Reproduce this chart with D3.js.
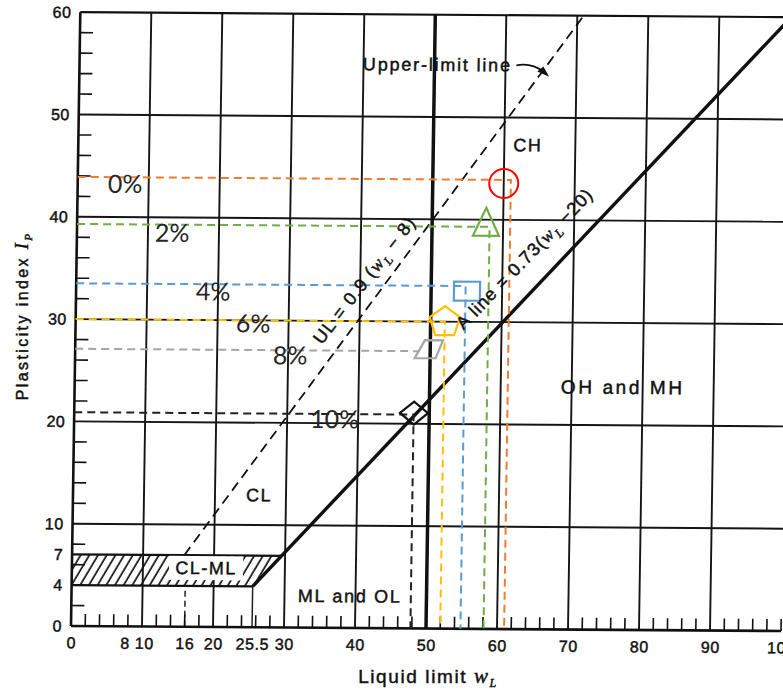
<!DOCTYPE html>
<html>
<head>
<meta charset="utf-8">
<script src="https://cdn.jsdelivr.net/npm/d3@7/dist/d3.min.js"></script>
<style>
  html, body { margin: 0; padding: 0; background: #fff; }
  svg { display: block; }
  .lbl { font-family: "Liberation Sans", Arial, sans-serif; fill: #111; stroke: #111; stroke-width: 0.45; paint-order: stroke; }
  .pct { font-family: Lato, "Open Sans", sans-serif; fill: #262626; }
</style>
</head>
<body>
<script>
// ---------------- data ----------------
const xTickValues = [0, 8, 10, 16, 20, 25.5, 30, 40, 50, 60, 70, 80, 90, 100];
const yTickValues = [0, 4, 7, 10, 20, 30, 40, 50, 60];
const gridX = [10, 20, 30, 40, 60, 70, 80, 90];
const gridY = [10, 20, 30, 40, 50];
const bLineWL = 50;

// A-line and upper-limit line [wL, Ip]
const aLinePts = [[25.5, 4], [100, 59.9]];
const ulLinePts = [[15.8, 7], [70.9, 60]];
// CL-ML band
const clmlBand = [[0, 4], [25.5, 4], [29.5, 7], [0, 7]];

// mixture series
const mixLabels = ["0%", "2%", "4%", "6%", "8%", "10%"];
const markerWL = [60.0, 57.6, 55.05, 52.0, 49.8, 47.85];
const markerIP = [43.55, 39.7, 33.0, 30.1, 27.3, 21.05];
const guideWL = [61.0, 58.1, 54.85, 52.0, null, 47.8];
const guideIP = [43.9, 39.3, 33.5, 30.0, 27.1, 20.9];
const labelWL = [6.7, 13.4, 19.3, 25.0, 30.3, 36.7];
const labelIP = [43.35, 38.6, 32.9, 29.8, 26.7, 20.5];

// ---------------- styles ----------------
const guideColors = ["#ed7d31", "#70ad47", "#5b9bd5", "#ffc000", "#a5a5a5", "#222222"];
const markerColors = ["#ff0000", "#70ad47", "#5b9bd5", "#ffc000", "#a5a5a5", "#111111"];
const markerShapes = ["circle", "triangle", "square", "pentagon", "parallelogram", "diamond"];

const W = 783, H = 690;
const svg = d3.select("body").append("svg").attr("width", W).attr("height", H);
svg.append("rect").attr("width", W).attr("height", H).attr("fill", "#fff");

const x = d3.scaleLinear().domain([0, 100]).range([0, 710]);
const y = d3.scaleLinear().domain([0, 60]).range([0, -613.8]);

// slight skew to mimic the scanned sheet
const g = svg.append("g").attr("transform", "matrix(1,0.00704,-0.01515,1,71,626)");

const defs = svg.append("defs");
const pat = defs.append("pattern").attr("id", "hatch").attr("patternUnits", "userSpaceOnUse")
  .attr("width", 7.5).attr("height", 8).attr("patternTransform", "rotate(30)");
pat.append("line").attr("x1", 2).attr("y1", 0).attr("x2", 2).attr("y2", 8)
  .attr("stroke", "#111").attr("stroke-width", 1.7);

// hatch band
const line = d3.line().x(d => x(d[0])).y(d => y(d[1]));
g.append("path").attr("d", line(clmlBand) + "Z").attr("fill", "url(#hatch)").attr("stroke", "none");
g.append("line").attr("x1", x(0)).attr("x2", x(29.5)).attr("y1", y(7)).attr("y2", y(7))
  .attr("stroke", "#111").attr("stroke-width", 2.2);
g.append("line").attr("x1", x(0)).attr("x2", x(25.5)).attr("y1", y(4)).attr("y2", y(4))
  .attr("stroke", "#111").attr("stroke-width", 2.2);
// small verticals below band
g.append("line").attr("x1", x(16)).attr("x2", x(16)).attr("y1", y(0)).attr("y2", y(4))
  .attr("stroke", "#222").attr("stroke-width", 1.5).attr("stroke-dasharray", "6,4");
g.append("line").attr("x1", x(25.5)).attr("x2", x(25.5)).attr("y1", y(0)).attr("y2", y(4))
  .attr("stroke", "#222").attr("stroke-width", 1.5);

// grid
g.selectAll("line.gx").data(gridX).join("line").attr("class", "gx")
  .attr("x1", d => x(d)).attr("x2", d => x(d)).attr("y1", y(0)).attr("y2", y(60))
  .attr("stroke", "#151515").attr("stroke-width", 1.9);
g.selectAll("line.gy").data(gridY).join("line").attr("class", "gy")
  .attr("x1", x(0)).attr("x2", x(100.6)).attr("y1", d => y(d)).attr("y2", d => y(d))
  .attr("stroke", "#151515").attr("stroke-width", 1.9);
// frame
g.append("line").attr("x1", x(0)).attr("x2", x(100.6)).attr("y1", y(60)).attr("y2", y(60))
  .attr("stroke", "#111").attr("stroke-width", 2.2);
g.append("line").attr("x1", x(0)).attr("x2", x(0)).attr("y1", y(0)).attr("y2", y(60))
  .attr("stroke", "#111").attr("stroke-width", 2.6);
g.append("line").attr("x1", x(0)).attr("x2", x(100)).attr("y1", y(0)).attr("y2", y(0))
  .attr("stroke", "#111").attr("stroke-width", 2.6);
// B-line
g.append("line").attr("x1", x(bLineWL)).attr("x2", x(bLineWL)).attr("y1", y(0)).attr("y2", y(60))
  .attr("stroke", "#111").attr("stroke-width", 3.5);

// minor ticks
const minorX = d3.range(2, 100.1, 2).filter(v => v % 10 !== 0);
const minorY = d3.range(2, 60, 2).filter(v => v % 10 !== 0);
g.selectAll("line.mx").data(minorX.concat([100])).join("line").attr("class", "mx")
  .attr("x1", d => x(d)).attr("x2", d => x(d)).attr("y1", y(0)).attr("y2", y(0) - 12)
  .attr("stroke", "#111").attr("stroke-width", 1.6);
g.selectAll("line.my").data(minorY).join("line").attr("class", "my")
  .attr("x1", x(0)).attr("x2", x(0) + 13).attr("y1", d => y(d)).attr("y2", d => y(d))
  .attr("stroke", "#111").attr("stroke-width", 1.6);

// axes labels via d3.axis
const xAxis = d3.axisBottom(x).tickValues(xTickValues).tickSize(0).tickPadding(11)
  .tickFormat(d => String(d));
const xa = g.append("g").call(xAxis);
xa.select(".domain").remove();
xa.selectAll("text").attr("class", "lbl").attr("font-size", 16).attr("letter-spacing", 0.6);
xa.selectAll(".tick").filter(d => d === 8).select("text").attr("dx", -3);
xa.selectAll(".tick").filter(d => d === 10).select("text").attr("dx", 2);

const yAxis = d3.axisLeft(y).tickValues(yTickValues).tickSize(0).tickPadding(9);
const ya = g.append("g").call(yAxis);
ya.select(".domain").remove();
ya.selectAll("text").attr("class", "lbl").attr("font-size", 16).attr("letter-spacing", 0.4);

// upper-limit line (dashed)
g.append("path").attr("d", line(ulLinePts)).attr("fill", "none")
  .attr("stroke", "#111").attr("stroke-width", 1.8).attr("stroke-dasharray", "10,6");
// A-line
g.append("path").attr("d", line(aLinePts)).attr("fill", "none")
  .attr("stroke", "#111").attr("stroke-width", 3.4);

// guide lines
mixLabels.forEach((lab, i) => {
  const pts = guideWL[i] === null
    ? [[0, guideIP[i]], [markerWL[i] - 1.3, guideIP[i]]]
    : [[0, guideIP[i]], [guideWL[i], guideIP[i]], [guideWL[i], 0]];
  g.append("path").attr("d", line(pts)).attr("fill", "none")
    .attr("stroke", guideColors[i]).attr("stroke-width", 2).attr("stroke-dasharray", "8,5");
});

// markers
function shapePath(s) {
  switch (s) {
    case "triangle": return "M0,-15L13,13L-13,13Z";
    case "square": return "M-13,-9.5H13V9.5H-13Z";
    case "pentagon": {
      const r = 16; const p = d3.range(5).map(k => {
        const a = -Math.PI / 2 + k * 2 * Math.PI / 5; return [r * Math.cos(a), r * Math.sin(a) + 1.5];
      });
      return "M" + p.map(q => q.join(",")).join("L") + "Z";
    }
    case "parallelogram": return "M-4,-9L14,-9L7,9L-14,9Z";
    case "diamond": return "M-14,0L0,-11.5L14,0L0,11.5Z";
  }
  return "";
}
mixLabels.forEach((lab, i) => {
  const px = x(markerWL[i]), py = y(markerIP[i]);
  if (markerShapes[i] === "circle") {
    g.append("circle").attr("cx", px).attr("cy", py).attr("r", 14.5)
      .attr("fill", "none").attr("stroke", markerColors[i]).attr("stroke-width", 2);
  } else {
    g.append("path").attr("d", shapePath(markerShapes[i]))
      .attr("transform", `translate(${px},${py})`)
      .attr("fill", "none").attr("stroke", markerColors[i]).attr("stroke-width", 2.2);
  }
});

// percentage labels
g.selectAll("text.pct").data(mixLabels).join("text").attr("class", "pct")
  .attr("x", (d, i) => x(labelWL[i])).attr("y", (d, i) => y(labelIP[i]))
  .attr("text-anchor", "middle").attr("dominant-baseline", "central")
  .attr("font-size", 25).text(d => d);

// region annotations
function ann(txt, wl, ip, size, ls) {
  return g.append("text").attr("class", "lbl").attr("x", x(wl)).attr("y", y(ip))
    .attr("text-anchor", "middle").attr("dominant-baseline", "central")
    .attr("font-size", size).attr("letter-spacing", ls).text(txt);
}
ann("Upper-limit line", 50.4, 55.1, 18, 1.8);
ann("CH", 63.3, 47.3, 18, 1.5);
ann("OH and MH", 77.2, 23.7, 19, 2.6);
ann("CL", 26.2, 12.9, 18, 1.5);
ann("ML and OL", 39.2, 3.1, 18, 1.7);

// CL-ML label with white box
const clx = x(18.9), cly = y(5.75);
g.append("rect").attr("x", clx - 37).attr("y", cly - 12).attr("width", 74).attr("height", 24).attr("fill", "#fff");
ann("CL-ML", 18.9, 5.75, 18, 1.5);

// arrow for upper-limit line
const arr = g.append("g");
const a0 = [x(50.4) + 79, y(55.1)];
arr.append("path").attr("d", `M${a0[0]},${a0[1]} Q${a0[0] + 15},${a0[1] - 3} ${a0[0] + 27},${a0[1] + 6}`)
  .attr("fill", "none").attr("stroke", "#111").attr("stroke-width", 1.8);
arr.append("path").attr("d", `M${a0[0] + 33},${a0[1] + 11} L${a0[0] + 21},${a0[1] + 6} L${a0[0] + 27},${a0[1] + 1} Z`)
  .attr("fill", "#111");

// rotated line labels
function rotLabel(parts, wl, ip, angle, size, ls) {
  const t = g.append("text").attr("class", "lbl")
    .attr("transform", `translate(${x(wl)},${y(ip)}) rotate(${angle})`)
    .attr("text-anchor", "middle").attr("dominant-baseline", "central")
    .attr("font-size", size).attr("letter-spacing", ls);
  parts.forEach(p => {
    const s = t.append("tspan").text(p.t);
    if (p.it) s.attr("font-family", "'Liberation Serif', serif").attr("font-style", "italic");
    if (p.sub) s.attr("font-size", size * 0.7).attr("baseline-shift", "sub");
  });
  return t;
}
rotLabel([{t: "UL = 0.9 ("}, {t: "w", it: true}, {t: "L", sub: true, it: true}, {t: " − 8)"}], 40.6, 34.0, -53, 18, 1.2);
rotLabel([{t: "A line = 0.73("}, {t: "w", it: true}, {t: "L", sub: true, it: true}, {t: " −20)"}], 63.1, 36.2, -46.6, 18, 1.0);

// axis titles
const xt = svg.append("text").attr("class", "lbl").attr("x", 428).attr("y", 676)
  .attr("text-anchor", "middle").attr("dominant-baseline", "central")
  .attr("font-size", 19).attr("letter-spacing", 1.6);
xt.append("tspan").text("Liquid limit ");
xt.append("tspan").text("w").attr("font-family", "'Liberation Serif', serif").attr("font-style", "italic").attr("font-size", 21);
xt.append("tspan").text("L").attr("font-family", "'Liberation Serif', serif").attr("font-style", "italic").attr("font-size", 12).attr("baseline-shift", "sub");

const yt = svg.append("text").attr("class", "lbl")
  .attr("transform", "translate(22,316) rotate(-90)")
  .attr("text-anchor", "middle").attr("dominant-baseline", "central")
  .attr("font-size", 16).attr("letter-spacing", 2.4);
yt.append("tspan").text("Plasticity index  ");
yt.append("tspan").text("I").attr("font-family", "'Liberation Serif', serif").attr("font-style", "italic").attr("font-size", 18);
yt.append("tspan").text("P").attr("font-family", "'Liberation Serif', serif").attr("font-style", "italic").attr("font-size", 11).attr("baseline-shift", "sub");
</script>
</body>
</html>
